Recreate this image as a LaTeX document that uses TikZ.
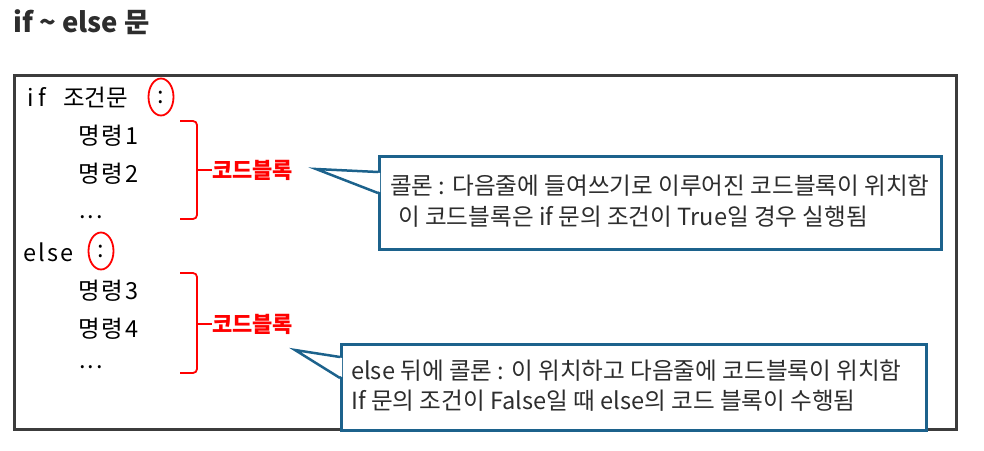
\documentclass[tikz,border=0pt]{standalone}
\usepackage{fontspec}
\setmainfont{Noto Sans CJK KR}
\newfontfamily\codefont{Noto Sans CJK KR}[LetterSpace=9]
\newfontfamily\codetight{Noto Sans CJK KR}
\usetikzlibrary{calc,shapes.geometric}
\definecolor{framegray}{RGB}{60,60,60}
\definecolor{titlegray}{RGB}{45,45,45}
\definecolor{callblue}{RGB}{28,98,140}
\definecolor{calltext}{RGB}{45,45,45}
\begin{document}
\begin{tikzpicture}[x=1pt,y=-1pt,
  titletext/.style={anchor=base west,inner sep=0,text=titlegray,font=\bfseries\fontsize{27.5}{32}\selectfont},
  mainframe/.style={draw=framegray,line width=2.6,anchor=north west,inner sep=0},
  code/.style={anchor=base west,inner sep=0,text=black,font=\codefont\fontsize{23.5}{28}\selectfont},
  colonmark/.style={ellipse,draw=red,line width=1.8,minimum width=25,minimum height=37,inner sep=0,font=\codefont\fontsize{23.5}{28}\selectfont},
  redline/.style={draw=red,line width=1.8,rounded corners=4},
  blocklabel/.style={anchor=west,inner sep=0,text=red,font=\bfseries\fontsize{22}{26}\selectfont},
  cbox/.style={draw=callblue,line width=2.5,fill=white,anchor=north west,inner sep=0},
  cline/.style={draw=callblue,line width=2.5,line join=miter},
  ctext/.style={anchor=base west,inner sep=0,text=calltext,font=\fontsize{23.6}{28}\selectfont}
]
\useasboundingbox (0,0) rectangle (984,450);

\node[titletext] (title) at (13,32) {if \textasciitilde{} else 문};

\node[mainframe,minimum width=942,minimum height=354] (frame) at (13,74) {};

% code lines
\node[code] (l1) at (27,106) {i\hspace{5pt}f\hspace{17pt}{\codetight\fontsize{23.5}{28}\selectfont 조건문}};
\node[colonmark] (k1) at (161,97) {:};
\node[code] (l2) at (78,144) {명령1};
\node[code] (l3) at (78,182) {명령2};
\node[code] (l4) at (79,218) {...};
\node[code] (l5) at (23,261) {else};
\node[colonmark] (k2) at (101,251) {:};
\node[code] (l6) at (78,299) {명령3};
\node[code] (l7) at (78,337) {명령4};
\node[code] (l8) at (79,368) {...};

% braces
\node[blocklabel] (lab1) at (212,170) {코드블록};
\coordinate (b1) at (197,170);
\draw[redline] (180,121) -| (b1) |- (180,219);
\draw[redline] (b1) -- (lab1.west);

\node[blocklabel] (lab2) at (212,324) {코드블록};
\coordinate (b2) at (197,324);
\draw[redline] (180,273) -| (b2) |- (180,373);
\draw[redline] (b2) -- (lab2.west);

% callout 1
\node[cbox,minimum width=562,minimum height=93] (c1) at (378,155) {};
\coordinate (t1) at (316,169);
\fill[white] ($(c1.north west)+(2,18)$) -- (t1) -- ($(c1.north west)+(2,37)$) -- cycle;
\draw[cline] ($(c1.north west)+(0,17)$) -- (t1) -- ($(c1.north west)+(0,38)$);
\node[ctext] (c1a) at (390,194) {콜론 : 다음줄에 들여쓰기로 이루어진 코드블록이 위치함};
\node[ctext] (c1b) at (398,225) {이 코드블록은 if 문의 조건이 True일 경우 실행됨};

% callout 2
\node[cbox,minimum width=585,minimum height=86] (c2) at (340,343) {};
\coordinate (t2) at (295,350);
\fill[white] ($(c2.north west)+(2,15)$) -- (t2) -- ($(c2.north west)+(2,34)$) -- cycle;
\draw[cline] ($(c2.north west)+(0,14)$) -- (t2) -- ($(c2.north west)+(0,35)$);
\node[ctext] (c2a) at (351,379) {else 뒤에 콜론 : 이 위치하고 다음줄에 코드블록이 위치함};
\node[ctext] (c2b) at (351,409) {If 문의 조건이 False일 때 else의 코드 블록이 수행됨};
\end{tikzpicture}
\end{document}
